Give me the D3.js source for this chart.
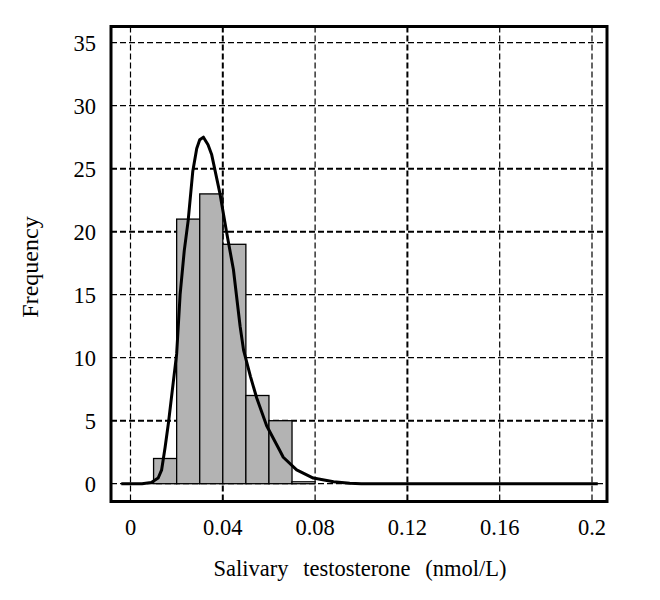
<!DOCTYPE html>
<html>
<head>
<meta charset="utf-8">
<script src="https://cdn.jsdelivr.net/npm/d3@7"></script>
<style>
  body { margin: 0; background: #fff; }
  text { font-family: "Liberation Serif", "Times New Roman", serif; fill: #000; }
</style>
</head>
<body>
<div id="chart"></div>
<script>
// histogram bins (lower edge, nmol/L) and counts
const binStarts = [0.01, 0.02, 0.03, 0.04, 0.05, 0.06, 0.07];
const binCounts = [2, 21, 23, 19, 7, 5, 0.15];
const binWidth = 0.01;

// fitted density curve: [value, frequency]
const curvePoints = [
  [-0.004, 0], [0.005, 0], [0.009, 0.1], [0.012, 0.45], [0.0135, 1.1],
  [0.015, 2.9], [0.0165, 4.9], [0.0185, 8], [0.02, 10.3], [0.0215, 15],
  [0.0233, 18.5], [0.025, 20.9], [0.027, 24.8], [0.0287, 26.6], [0.03, 27.3],
  [0.0316, 27.5], [0.0336, 26.9], [0.0352, 26.1], [0.0388, 23], [0.0417, 19.9],
  [0.0446, 17], [0.0475, 12.5], [0.049, 10.6], [0.052, 8.5], [0.0547, 6.8],
  [0.059, 4.6], [0.0648, 2.6], [0.0662, 2.1], [0.072, 1.1], [0.0792, 0.45],
  [0.088, 0.16], [0.095, 0.03], [0.1, 0], [0.2025, 0]
];

const xTicks = [0, 0.04, 0.08, 0.12, 0.16, 0.2];
const xTickLabels = ["0", "0.04", "0.08", "0.12", "0.16", "0.2"];
const yTicks = [0, 5, 10, 15, 20, 25, 30, 35];
const boldX = [0.04, 0.12];
const boldY = [5, 20, 25];

const width = 660, height = 600;
const frame = { left: 111, top: 26.5, right: 607, bottom: 501.5 };

const svg = d3.select("#chart").append("svg")
  .attr("width", width)
  .attr("height", height);

const x = d3.scaleLinear().domain([0, 0.2]).range([130.5, 592]);
const y = d3.scaleLinear().domain([0, 35]).range([483.7, 42.7]);

// grid
svg.append("g")
  .selectAll("line")
  .data(yTicks)
  .enter()
  .append("line")
  .attr("x1", frame.left)
  .attr("x2", frame.right)
  .attr("y1", (d) => y(d))
  .attr("y2", (d) => y(d))
  .attr("stroke", "#000")
  .attr("stroke-width", (d) => (boldY.includes(d) ? 2 : 1.2))
  .attr("stroke-dasharray", "6,3");

svg.append("g")
  .selectAll("line")
  .data(xTicks)
  .enter()
  .append("line")
  .attr("x1", (d) => x(d))
  .attr("x2", (d) => x(d))
  .attr("y1", frame.top)
  .attr("y2", frame.bottom)
  .attr("stroke", "#000")
  .attr("stroke-width", (d) => (boldX.includes(d) ? 2 : 1.2))
  .attr("stroke-dasharray", "6,3");

// bars
svg.append("g")
  .selectAll("rect")
  .data(binStarts)
  .enter()
  .append("rect")
  .attr("x", (d) => x(d))
  .attr("width", x(binWidth) - x(0))
  .attr("y", (d, i) => y(binCounts[i]))
  .attr("height", (d, i) => y(0) - y(binCounts[i]))
  .attr("fill", (d, i) => (binCounts[i] < 1 ? "#fff" : "#b3b3b3"))
  .attr("stroke", "#000")
  .attr("stroke-width", 1.3);

// density curve
const line = d3.line()
  .x((d) => x(d[0]))
  .y((d) => y(d[1]));

svg.append("path")
  .datum(curvePoints)
  .attr("d", line)
  .attr("fill", "none")
  .attr("stroke", "#000")
  .attr("stroke-width", 3)
  .attr("stroke-linejoin", "round");

// frame
svg.append("rect")
  .attr("x", frame.left)
  .attr("y", frame.top)
  .attr("width", frame.right - frame.left)
  .attr("height", frame.bottom - frame.top)
  .attr("fill", "none")
  .attr("stroke", "#000")
  .attr("stroke-width", 3);

// tick labels
svg.append("g")
  .selectAll("text")
  .data(yTicks)
  .enter()
  .append("text")
  .attr("x", 96)
  .attr("y", (d) => y(d))
  .attr("dy", "0.35em")
  .attr("text-anchor", "end")
  .attr("font-size", 22.5)
  .text((d) => d);

svg.append("g")
  .selectAll("text")
  .data(xTicks)
  .enter()
  .append("text")
  .attr("x", (d) => x(d))
  .attr("y", 535)
  .attr("text-anchor", "middle")
  .attr("font-size", 22.5)
  .text((d, i) => xTickLabels[i]);

// axis titles
svg.append("text")
  .attr("x", 360)
  .attr("y", 576)
  .attr("text-anchor", "middle")
  .attr("font-size", 22.5)
  .attr("word-spacing", 9)
  .text("Salivary testosterone (nmol/L)");

svg.append("text")
  .attr("transform", "translate(38,267) rotate(-90)")
  .attr("text-anchor", "middle")
  .attr("font-size", 24)
  .text("Frequency");
</script>
</body>
</html>
